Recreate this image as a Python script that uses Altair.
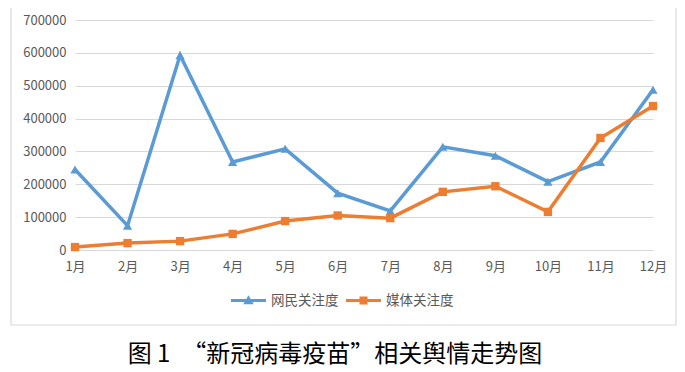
import altair as alt
import pandas as pd

months = ["1月", "2月", "3月", "4月", "5月", "6月", "7月", "8月", "9月", "10月", "11月", "12月"]
netizen = [245000, 74000, 593000, 268000, 308000, 173000, 119000, 314000, 287000, 208000, 268000, 488000]
media = [9000, 21000, 27000, 49000, 88000, 105000, 97000, 177000, 194000, 116000, 341000, 438000]
series_names = ["网民关注度", "媒体关注度"]
colors = ["#5B9BD5", "#ED7D31"]
y_ticks = [0, 100000, 200000, 300000, 400000, 500000, 600000, 700000]
caption = "图\u00a01\u3000“新冠病毒疫苗”相关舆情走势图"

rows = []
for m, a, b in zip(months, netizen, media):
    rows.append({"month": m, "series": series_names[0], "value": a})
    rows.append({"month": m, "series": series_names[1], "value": b})
df = pd.DataFrame(rows)

FONT = "Noto Sans CJK SC"
GRAY = "#595959"

x_enc = alt.X("month:N", sort=months, scale=alt.Scale(padding=0),
              axis=alt.Axis(title=None, labelAngle=0, ticks=False, domain=False, grid=False,
                            labelFont=FONT, labelFontSize=13, labelColor=GRAY, labelPadding=10))
y_enc = alt.Y("value:Q", scale=alt.Scale(domain=[0, 700000], nice=False),
              axis=alt.Axis(title=None, values=y_ticks, format="d", ticks=False, domain=False,
                            grid=True, gridColor="#D9D9D9", gridWidth=1,
                            labelFont=FONT, labelFontSize=13, labelColor=GRAY, labelPadding=9))
color_scale = alt.Scale(domain=series_names, range=colors)

base = alt.Chart(df)

frame = alt.Chart(alt.Data(values=[{"a": 1}])).mark_rect(
    fill="transparent", stroke="#D9D9D9", strokeWidth=1.2
).encode(x=alt.value(-64), x2=alt.value(601), y=alt.value(-17), y2=alt.value(305))

lines_net = base.transform_filter(alt.datum.series == series_names[0]).mark_line(
    strokeWidth=3.5, color=colors[0]).encode(x=x_enc, y=y_enc)

pts_net = base.transform_filter(alt.datum.series == series_names[0]).mark_point(
    shape="triangle-up", filled=True, size=85, opacity=1, color=colors[0]
).encode(x=x_enc, y=y_enc)

lines_media = base.transform_filter(alt.datum.series == series_names[1]).mark_line(
    strokeWidth=3.5, color=colors[1]).encode(x=x_enc, y=y_enc)

pts_media = base.transform_filter(alt.datum.series == series_names[1]).mark_point(
    shape="square", filled=True, size=70, opacity=1, color=colors[1]
).encode(x=x_enc, y=y_enc)

tri_path = "M-1,-0.09H1V0.09H-1Z M0,-0.3L0.3,0.22H-0.3Z"
sq_path = "M-1,-0.09H1V0.09H-1Z M-0.23,-0.23H0.23V0.23H-0.23Z"

leg = alt.Legend(orient="none", legendX=155, legendY=262, direction="horizontal",
                 labelFont=FONT, labelFontSize=13.5, labelColor=GRAY,
                 labelOffset=4, columnPadding=6, padding=0, symbolSize=1225)

legend_layer = base.transform_filter(alt.datum.value < 0).mark_point(filled=True, size=1225, opacity=1).encode(
    x=x_enc, y=y_enc,
    color=alt.Color("series:N", scale=color_scale, title=None, legend=leg),
    shape=alt.Shape("series:N", scale=alt.Scale(domain=series_names, range=[tri_path, sq_path]),
                    title=None, legend=leg),
)

chart = alt.layer(frame, lines_net, pts_net, lines_media, pts_media, legend_layer).properties(
    width=578, height=230,
    autosize=alt.AutoSizeParams(type="none"),
    padding={"left": 67, "top": 12, "right": 24, "bottom": 125},
    title=alt.TitleParams(caption, orient="bottom", anchor="middle", font=FONT, fontSize=24,
                          fontWeight="normal", color="#000000", dx=-29, offset=17),
).configure_view(stroke=None)

chart.save("out.html", embed_options={"renderer": "svg", "actions": False})
